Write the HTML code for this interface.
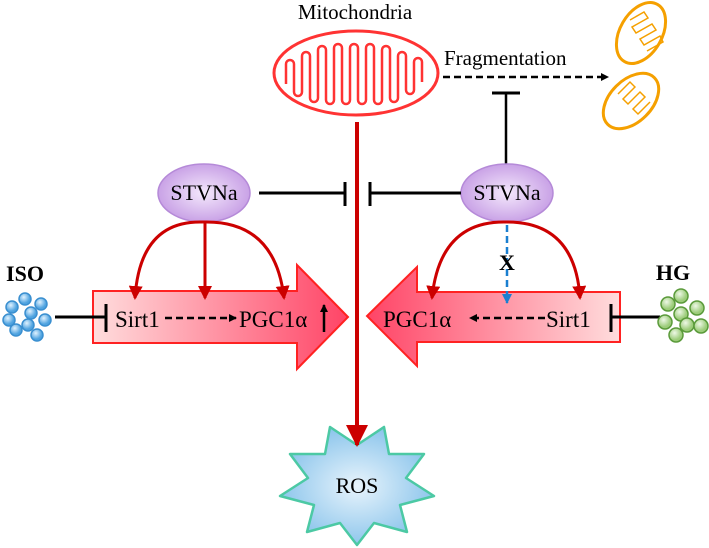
<!DOCTYPE html>
<html><head><meta charset="utf-8"><style>body{margin:0;background:#fff}svg{display:block}text{font-family:"Liberation Serif",serif}</style></head><body>
<svg width="709" height="548" viewBox="0 0 709 548">
<defs>
<linearGradient id="gl" x1="0" x2="1"><stop offset="0" stop-color="#fdd"/><stop offset="1" stop-color="#f46"/></linearGradient>
<linearGradient id="gr" x1="1" x2="0"><stop offset="0" stop-color="#fdd"/><stop offset="1" stop-color="#f46"/></linearGradient>
<radialGradient id="gs"><stop offset="0" stop-color="#e8f4fc"/><stop offset="1" stop-color="#8ec6ec"/></radialGradient>
<radialGradient id="ge"><stop offset="0" stop-color="#f4e8fc"/><stop offset="1" stop-color="#c9a2e6"/></radialGradient>
<radialGradient id="bb" cx=".4" cy=".35"><stop offset="0" stop-color="#e0f2ff"/><stop offset="1" stop-color="#4fa3e0"/></radialGradient>
<radialGradient id="gb" cx=".4" cy=".35"><stop offset="0" stop-color="#eef8e6"/><stop offset="1" stop-color="#9ccc7a"/></radialGradient>
<marker id="ab" markerWidth="8" markerHeight="8" refX="7" refY="4" orient="auto" markerUnits="userSpaceOnUse"><path d="M0,0L8,4L0,8z" fill="#000"/></marker>
<marker id="ar" markerWidth="14" markerHeight="14" refX="12" refY="7" orient="auto" markerUnits="userSpaceOnUse"><path d="M0,0L14,7L0,14z" fill="#c00"/></marker>
<marker id="ar2" markerWidth="22" markerHeight="22" refX="20" refY="11" orient="auto" markerUnits="userSpaceOnUse"><path d="M0,0L22,11L0,22z" fill="#c00"/></marker>
<marker id="au" markerWidth="10" markerHeight="10" refX="9" refY="5" orient="auto" markerUnits="userSpaceOnUse"><path d="M0,0L10,5L0,10z" fill="#1a7fd0"/></marker>
</defs>
<text x="355" y="19" font-size="21" text-anchor="middle">Mitochondria</text>
<ellipse cx="356" cy="73" rx="82" ry="42" fill="#fff" stroke="#f33" stroke-width="3"/>
<path d="M286,84 V64 a4,4 0 0 1 8,0 V92 a4,4 0 0 0 8,0 V56 a4,4 0 0 1 8,0 V98 a4,4 0 0 0 8,0 V50 a4,4 0 0 1 8,0 V100 a4,4 0 0 0 8,0 V48 a4,4 0 0 1 8,0 V100 a4,4 0 0 0 8,0 V48 a4,4 0 0 1 8,0 V100 a4,4 0 0 0 8,0 V48 a4,4 0 0 1 8,0 V100 a4,4 0 0 0 8,0 V50 a4,4 0 0 1 8,0 V98 a4,4 0 0 0 8,0 V56 a4,4 0 0 1 8,0 V90 a4,4 0 0 0 8,0 V62 a4,4 0 0 1 8,0 V82" fill="none" stroke="#f33" stroke-width="2.5"/>
<text x="444" y="65" font-size="21">Fragmentation</text>
<line x1="443" y1="77" x2="608" y2="77" stroke="#000" stroke-width="2.5" stroke-dasharray="7,4" marker-end="url(#ab)"/>
<line x1="492" y1="93" x2="520" y2="93" stroke="#000" stroke-width="3"/>
<line x1="506" y1="93" x2="506" y2="166" stroke="#000" stroke-width="2.5"/>
<g fill="#fff" stroke="#f5a000" stroke-width="3">
<ellipse cx="641" cy="33" rx="21" ry="33" transform="rotate(30 641 33)"/>
<ellipse cx="631" cy="101" rx="21" ry="33" transform="rotate(45 631 101)"/>
</g>
<g fill="none" stroke="#f5a000" stroke-width="1.5">
<path d="M630,20 l14,-8 l4,6 l-16,9 l4,6 l16,-9 l4,6 l-16,9 l4,6 l16,-9 l3,6 l-16,9"/>
<path d="M618,94 l12,-12 l5,5 l-12,12 l5,5 l12,-12 l5,5 l-12,12 l5,5 l12,-12"/>
</g>
<path d="M93,291 H297 V265 L348,317 L297,369 V343 H93 Z" fill="url(#gl)" stroke="#f22" stroke-width="2"/>
<path d="M620,292 H417 V267 L367,316 L417,366 V342 H620 Z" fill="url(#gr)" stroke="#f22" stroke-width="2"/>
<polygon points="384,427 389,454 424,454 406,478 434,496 400,505 407,532 374,523 357,545 340,523 307,532 314,505 280,496 308,478 290,454 325,454 330,427 357,445" fill="url(#gs)" stroke="#4cc9a4" stroke-width="2.5" stroke-linejoin="round"/>
<text x="357" y="493" font-size="22" text-anchor="middle">ROS</text>
<line x1="357" y1="122" x2="357" y2="445" stroke="#c00" stroke-width="4" marker-end="url(#ar2)"/>
<ellipse cx="204" cy="193" rx="46" ry="29" fill="url(#ge)" stroke="#b58ad8" stroke-width="1.5"/>
<text x="204" y="200" font-size="22" text-anchor="middle">STVNa</text>
<ellipse cx="507" cy="193" rx="46" ry="29" fill="url(#ge)" stroke="#b58ad8" stroke-width="1.5"/>
<text x="507" y="200" font-size="22" text-anchor="middle">STVNa</text>
<g stroke="#000" stroke-width="3">
<line x1="259" y1="193" x2="344" y2="193"/><line x1="345" y1="182" x2="345" y2="206"/>
<line x1="370" y1="193" x2="461" y2="193"/><line x1="370" y1="182" x2="370" y2="206"/>
<line x1="55" y1="317" x2="106" y2="317"/><line x1="106" y1="304" x2="106" y2="332"/>
<line x1="612" y1="317" x2="660" y2="317"/><line x1="611" y1="304" x2="611" y2="332"/>
</g>
<g fill="none" stroke="#c00" stroke-width="3">
<path d="M203,222 Q140,220 135,298" marker-end="url(#ar)"/>
<path d="M203,222 Q275,220 284,298" marker-end="url(#ar)"/>
<line x1="205" y1="222" x2="205" y2="298" marker-end="url(#ar)"/>
<path d="M507,222 Q440,220 432,298" marker-end="url(#ar)"/>
<path d="M507,222 Q575,222 580,298" marker-end="url(#ar)"/>
</g>
<line x1="507" y1="225" x2="507" y2="303" stroke="#1a7fd0" stroke-width="2.5" stroke-dasharray="7,4" marker-end="url(#au)"/>
<text x="507" y="270" font-size="22" font-weight="bold" text-anchor="middle" font-family="Liberation Sans">X</text>
<text x="115" y="327" font-size="23">Sirt1</text>
<line x1="165" y1="318" x2="236" y2="318" stroke="#000" stroke-width="2.5" stroke-dasharray="7,4" marker-end="url(#ab)"/>
<text x="239" y="327" font-size="23">PGC1α</text>
<line x1="324" y1="332" x2="324" y2="305" stroke="#000" stroke-width="2.5" marker-end="url(#ab)"/>
<text x="383" y="327" font-size="23">PGC1α</text>
<line x1="545" y1="318" x2="470" y2="318" stroke="#000" stroke-width="2.5" stroke-dasharray="7,4" marker-end="url(#ab)"/>
<text x="546" y="327" font-size="23">Sirt1</text>
<text x="25" y="281" font-size="22" font-weight="bold" text-anchor="middle">ISO</text>
<text x="673" y="280" font-size="22" font-weight="bold" text-anchor="middle">HG</text>
<g fill="url(#bb)" stroke="#3a8fd0" stroke-width="1.5">
<circle cx="25" cy="299" r="6"/><circle cx="12" cy="307" r="6"/><circle cx="41" cy="304" r="6"/><circle cx="31" cy="313" r="6"/><circle cx="9" cy="320" r="6"/><circle cx="45" cy="320" r="6"/><circle cx="28" cy="325" r="6"/><circle cx="16" cy="330" r="6"/><circle cx="37" cy="335" r="6"/>
</g>
<g fill="url(#gb)" stroke="#5a9a3a" stroke-width="1.5">
<circle cx="681" cy="296" r="7"/><circle cx="668" cy="304" r="7"/><circle cx="697" cy="308" r="7"/><circle cx="681" cy="314" r="7"/><circle cx="665" cy="322" r="7"/><circle cx="687" cy="325" r="7"/><circle cx="701" cy="326" r="7"/><circle cx="676" cy="335" r="7"/>
</g>
</svg>
</body></html>
